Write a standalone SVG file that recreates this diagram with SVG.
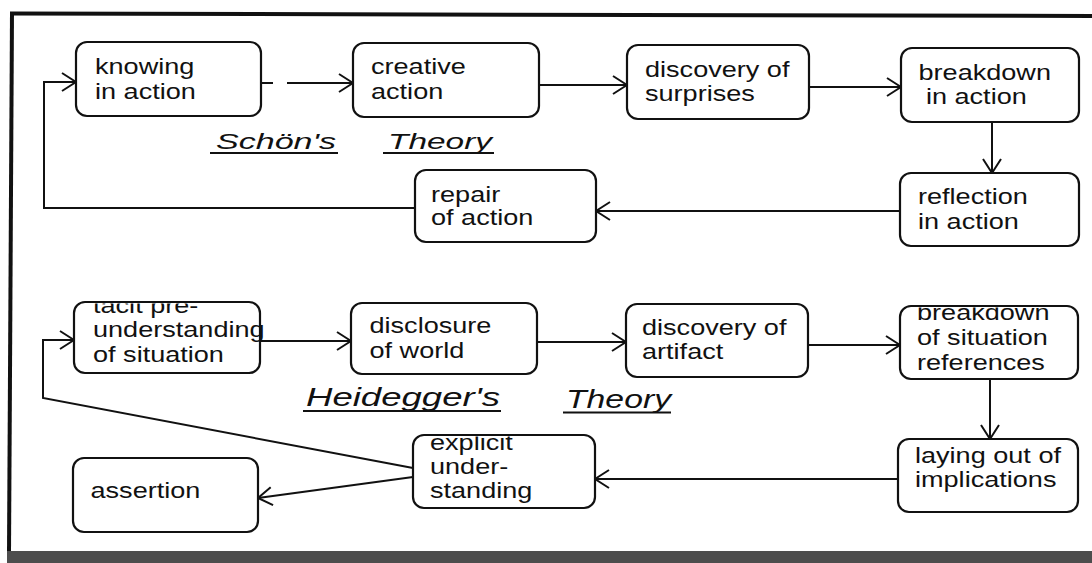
<svg xmlns="http://www.w3.org/2000/svg" width="1092" height="563" viewBox="0 0 1092 563">
  <style>
    .box { fill: #ffffff; stroke: #111111; stroke-width: 2.2; }
    .lbl { font-family: "Liberation Sans", Arial, sans-serif; font-size: 21.5px; fill: #111111; }
    .title { font-family: "Liberation Sans", Arial, sans-serif; font-style: italic; fill: #111111; }
    .uline { stroke: #111111; stroke-width: 1.8; }
    .conn { fill: none; stroke: #111111; stroke-width: 2; }
    .frame { stroke: #111111; stroke-width: 4; }
  </style>
  <defs>
    <marker id="arrow" viewBox="0 0 16 20" refX="15" refY="10" markerWidth="16" markerHeight="20" markerUnits="userSpaceOnUse" orient="auto">
      <path d="M1,1 L15,10 L1,19" fill="none" stroke="#111111" stroke-width="2"/>
    </marker>
    <clipPath id="clip-tacit"><rect x="60" y="303.5" width="260" height="90"/></clipPath>
    <clipPath id="clip-explicit"><rect x="400" y="436.5" width="220" height="90"/></clipPath>
    <clipPath id="clip-breakdown-sit"><rect x="890" y="307.5" width="200" height="90"/></clipPath>
  </defs>

  <rect width="1092" height="563" fill="#ffffff"/>

  <!-- outer frame -->
  <g id="frame">
    <line class="frame" x1="10" y1="13.5" x2="1092" y2="16"/>
    <line class="frame" x1="12" y1="12" x2="9" y2="553"/>
    <rect x="7" y="551" width="1085" height="12" fill="#4d4d4d"/>
  </g>

  <!-- connectors -->
  <g id="connectors">
    <path class="conn" d="M262,83 L273,83 M287,83 L353,83" marker-end="url(#arrow)"/>
    <path class="conn" d="M539,85 L627,85" marker-end="url(#arrow)"/>
    <path class="conn" d="M809,87 L901,87" marker-end="url(#arrow)"/>
    <path class="conn" d="M992,122 L992,173" marker-end="url(#arrow)"/>
    <path class="conn" d="M900,211 L596,211" marker-end="url(#arrow)"/>
    <path class="conn" d="M415,208 L44,208 L44,82 L76,82" marker-end="url(#arrow)"/>
    <path class="conn" d="M260,341 L351,341" marker-end="url(#arrow)"/>
    <path class="conn" d="M537,342 L626,342" marker-end="url(#arrow)"/>
    <path class="conn" d="M808,345 L900,345" marker-end="url(#arrow)"/>
    <path class="conn" d="M990,379 L990,439" marker-end="url(#arrow)"/>
    <path class="conn" d="M898,479 L595,479" marker-end="url(#arrow)"/>
    <path class="conn" d="M413,468 L43,398 L43,340 L74,340" marker-end="url(#arrow)"/>
    <path class="conn" d="M413,477 L258,498" marker-end="url(#arrow)"/>
  </g>

  <!-- Schön's cycle -->
  <g id="n-knowing">
    <rect class="box" x="76" y="42" width="185" height="74" rx="11"/>
    <text class="lbl" transform="translate(95,74) scale(1.26,1)"><tspan x="0" y="0">knowing</tspan><tspan x="0" y="25">in action</tspan></text>
  </g>
  <g id="n-creative">
    <rect class="box" x="353" y="43" width="186" height="74" rx="11"/>
    <text class="lbl" transform="translate(371,74) scale(1.26,1)"><tspan x="0" y="0">creative</tspan><tspan x="0" y="25">action</tspan></text>
  </g>
  <g id="n-surprises">
    <rect class="box" x="627" y="45" width="182" height="74" rx="11"/>
    <text class="lbl" transform="translate(645,77) scale(1.26,1)"><tspan x="0" y="0">discovery of</tspan><tspan x="0" y="24">surprises</tspan></text>
  </g>
  <g id="n-breakdown-action">
    <rect class="box" x="901" y="48" width="178" height="74" rx="11"/>
    <text class="lbl" transform="translate(918.5,80) scale(1.26,1)"><tspan x="0" y="0">breakdown</tspan><tspan x="5.9" y="24">in action</tspan></text>
  </g>
  <g id="n-reflection">
    <rect class="box" x="900" y="173" width="179" height="73" rx="11"/>
    <text class="lbl" transform="translate(918,204) scale(1.26,1)"><tspan x="0" y="0">reflection</tspan><tspan x="0" y="25">in action</tspan></text>
  </g>
  <g id="n-repair">
    <rect class="box" x="415" y="170" width="181" height="72" rx="11"/>
    <text class="lbl" transform="translate(431,201.5) scale(1.26,1)"><tspan x="0" y="0">repair</tspan><tspan x="0" y="24">of action</tspan></text>
  </g>

  <g id="title-schoen">
    <text class="title" x="216" y="149" font-size="22" textLength="120" lengthAdjust="spacingAndGlyphs">Schön's</text>
    <line class="uline" x1="210" y1="153" x2="338" y2="153"/>
    <text class="title" x="388" y="149" font-size="22" textLength="104" lengthAdjust="spacingAndGlyphs">Theory</text>
    <line class="uline" x1="383" y1="153" x2="494" y2="153"/>
  </g>

  <!-- Heidegger's cycle -->
  <g id="n-tacit">
    <rect class="box" x="74" y="302" width="186" height="71" rx="11"/>
    <g clip-path="url(#clip-tacit)">
      <text class="lbl" transform="translate(93,313) scale(1.26,1)"><tspan x="0" y="0">tacit pre-</tspan><tspan x="0" y="24">understanding</tspan><tspan x="0" y="49">of situation</tspan></text>
    </g>
  </g>
  <g id="n-disclosure">
    <rect class="box" x="351" y="303" width="186" height="71" rx="11"/>
    <text class="lbl" transform="translate(369.5,333) scale(1.26,1)"><tspan x="0" y="0">disclosure</tspan><tspan x="0" y="25">of world</tspan></text>
  </g>
  <g id="n-artifact">
    <rect class="box" x="626" y="304" width="182" height="73" rx="11"/>
    <text class="lbl" transform="translate(642,335) scale(1.26,1)"><tspan x="0" y="0">discovery of</tspan><tspan x="0" y="24">artifact</tspan></text>
  </g>
  <g id="n-breakdown-sit">
    <rect class="box" x="900" y="306" width="178" height="73" rx="11"/>
    <g clip-path="url(#clip-breakdown-sit)">
      <text class="lbl" transform="translate(917,320) scale(1.26,1)"><tspan x="0" y="0">breakdown</tspan><tspan x="0" y="25">of situation</tspan><tspan x="0" y="50">references</tspan></text>
    </g>
  </g>
  <g id="n-laying">
    <rect class="box" x="898" y="439" width="180" height="73" rx="11"/>
    <text class="lbl" transform="translate(915,463) scale(1.26,1)"><tspan x="0" y="0">laying out of</tspan><tspan x="0" y="24">implications</tspan></text>
  </g>
  <g id="n-explicit">
    <rect class="box" x="413" y="435" width="182" height="73" rx="11"/>
    <g clip-path="url(#clip-explicit)">
      <text class="lbl" transform="translate(430,450) scale(1.26,1)"><tspan x="0" y="0">explicit</tspan><tspan x="0" y="24">under-</tspan><tspan x="0" y="48">standing</tspan></text>
    </g>
  </g>
  <g id="n-assertion">
    <rect class="box" x="73" y="458" width="185" height="74" rx="11"/>
    <text class="lbl" transform="translate(90.5,498) scale(1.26,1)">assertion</text>
  </g>

  <g id="title-heidegger">
    <text class="title" x="306" y="406" font-size="25" textLength="194" lengthAdjust="spacingAndGlyphs">Heidegger's</text>
    <line class="uline" x1="303" y1="411" x2="501" y2="411"/>
    <text class="title" x="566" y="408" font-size="25" textLength="105" lengthAdjust="spacingAndGlyphs">Theory</text>
    <line class="uline" x1="563" y1="412.5" x2="671" y2="412.5"/>
  </g>
</svg>
